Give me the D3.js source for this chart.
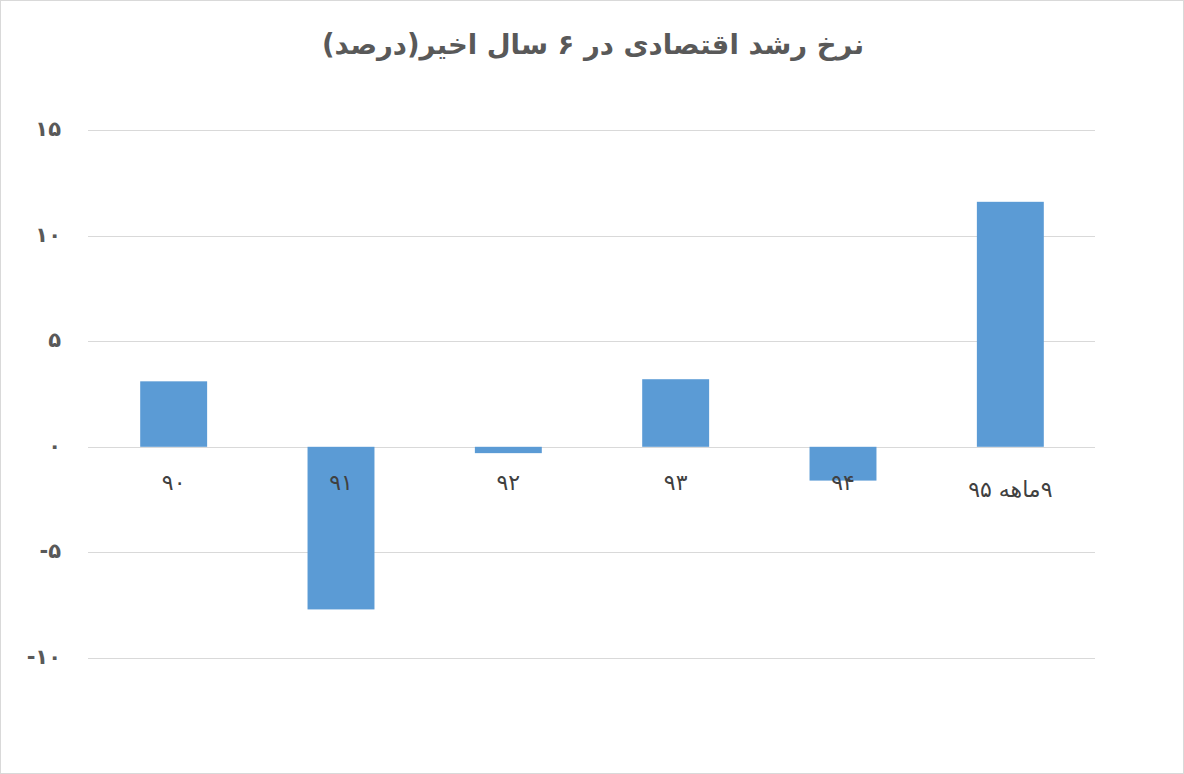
<!DOCTYPE html>
<html><head><meta charset="utf-8">
<script src="https://cdn.jsdelivr.net/npm/d3@7"></script>
<style>
html,body{margin:0;padding:0;background:#fff;}
svg{display:block;}
</style></head>
<body>
<svg id="c" width="1184" height="774"></svg>
<script>
const title = "نرخ رشد اقتصادی در ۶ سال  اخیر(درصد)";
const categories = ["۹۰","۹۱","۹۲","۹۳","۹۴","۹ماهه ۹۵"];
const values = [3.1, -7.7, -0.3, 3.2, -1.6, 11.6];
const yTicks = [15, 10, 5, 0, -5, -10];
const yTickLabels = ["۱۵","۱۰","۵","۰","-۵","-۱۰"];

const svg = d3.select("#c");
const W = 1184, H = 774;
svg.append("rect").attr("x",0.5).attr("y",0.5).attr("width",W-1).attr("height",H-1)
  .attr("fill","#fff").attr("stroke","#d9d9d9");

const x = d3.scaleBand().domain(categories).range([90, 1094]).paddingInner(0.6).paddingOuter(0.3);
const y = d3.scaleLinear().domain([-10, 15]).range([658, 130]);

svg.append("text").attr("x", 593).attr("y", 54).attr("text-anchor","middle")
  .attr("direction","rtl")
  .attr("font-family","DejaVu Sans, sans-serif").attr("font-weight","bold")
  .attr("font-size", 27.5).attr("fill","#595959").text(title);

const grid = svg.append("g");
grid.selectAll("line").data(yTicks).join("line")
  .attr("x1", 88).attr("x2", 1095)
  .attr("y1", d => Math.round(y(d)) + 0.5).attr("y2", d => Math.round(y(d)) + 0.5)
  .attr("stroke", "#d9d9d9").attr("stroke-width", 1);

svg.append("g").selectAll("text").data(yTicks).join("text")
  .attr("x", 61).attr("y", d => y(d) + 6)
  .attr("text-anchor","end")
  .attr("font-family","DejaVu Sans, sans-serif").attr("font-weight","bold")
  .attr("font-size", 21).attr("letter-spacing", 4).attr("fill","#595959")
  .text((d,i) => yTickLabels[i]);

svg.append("g").selectAll("rect").data(values).join("rect")
  .attr("x", (d,i) => x(categories[i]))
  .attr("width", x.bandwidth())
  .attr("y", d => y(Math.max(0, d)))
  .attr("height", d => Math.abs(y(d) - y(0)))
  .attr("fill", "#5b9bd5");

svg.append("g").selectAll("text").data(categories).join("text")
  .attr("x", d => x(d) + x.bandwidth()/2)
  .attr("y", (d,i) => i === 5 ? 497 : 490)
  .attr("text-anchor","middle")
  .attr("direction","rtl")
  .attr("font-family","DejaVu Sans, sans-serif")
  .attr("font-size", 22).attr("letter-spacing", (d,i) => i === 5 ? 0 : 4).attr("fill","#404040")
  .text(d => d);
</script>
</body></html>
